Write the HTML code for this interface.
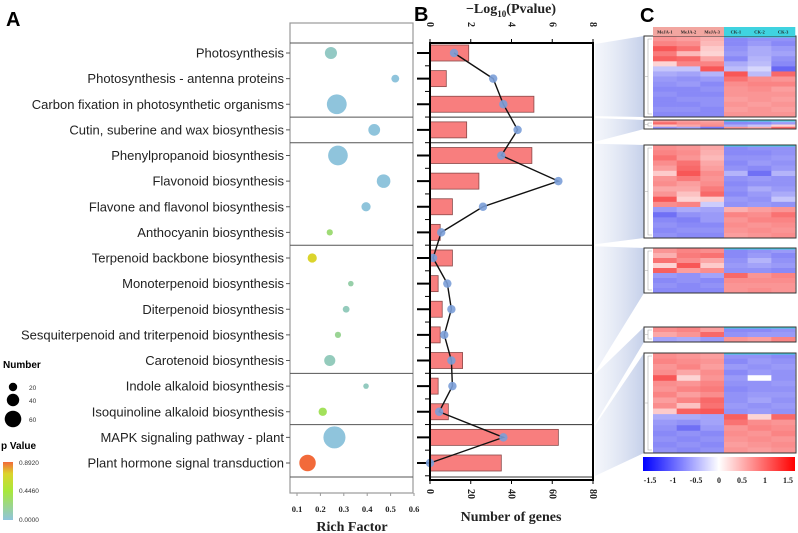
<!DOCTYPE html>
<html><head><meta charset="utf-8">
<style>
html,body{margin:0;padding:0;background:#fff;width:798px;height:533px;overflow:hidden}
svg{display:block}
.lab{font-family:"Liberation Sans",Arial,sans-serif;font-size:13px;fill:#222}
.ser{font-family:"Liberation Serif",serif;font-weight:bold;fill:#222}
</style></head>
<body>
<svg id="fig" width="798" height="533" viewBox="0 0 798 533" xmlns="http://www.w3.org/2000/svg">
<defs>
<linearGradient id="pgrad" x1="0" y1="1" x2="0" y2="0">
<stop offset="0" stop-color="#8fc4dc"/><stop offset="0.5" stop-color="#a8e83a"/><stop offset="0.8" stop-color="#dcd42c"/><stop offset="1" stop-color="#f26a3a"/>
</linearGradient>
<linearGradient id="fan" x1="0" y1="0" x2="1" y2="0">
<stop offset="0" stop-color="#dfe5f3" stop-opacity="0.35"/><stop offset="1" stop-color="#c5d0ea" stop-opacity="1"/>
</linearGradient>
<linearGradient id="cbar" x1="0" y1="0" x2="1" y2="0">
<stop offset="0" stop-color="#0000ff"/><stop offset="0.5" stop-color="#ffffff"/><stop offset="1" stop-color="#ff0000"/>
</linearGradient>
</defs>
<g id="fans"></g>
<text x="6" y="26" font-family="Liberation Sans,sans-serif" font-weight="bold" font-size="20">A</text>
<text x="414" y="21" font-family="Liberation Sans,sans-serif" font-weight="bold" font-size="20">B</text>
<text x="640" y="22" font-family="Liberation Sans,sans-serif" font-weight="bold" font-size="20">C</text>
<g id="panelA"></g>
<g id="panelB"></g>
<g id="panelC"></g>
<g id="legend">
<text x="3" y="368" font-family="Liberation Sans,sans-serif" font-weight="bold" font-size="10">Number</text>
<circle cx="13" cy="387" r="4.2" fill="#000"/>
<circle cx="13" cy="400" r="6.2" fill="#000"/>
<circle cx="13" cy="419" r="8.3" fill="#000"/>
<text x="29" y="390" font-family="Liberation Sans,sans-serif" font-size="6.5" fill="#333">20</text>
<text x="29" y="403" font-family="Liberation Sans,sans-serif" font-size="6.5" fill="#333">40</text>
<text x="29" y="422" font-family="Liberation Sans,sans-serif" font-size="6.5" fill="#333">60</text>
<text x="1" y="449" font-family="Liberation Sans,sans-serif" font-weight="bold" font-size="10">p Value</text>
<rect x="3" y="462" width="10" height="58" fill="url(#pgrad)"/>
<text x="19" y="465" font-family="Liberation Sans,sans-serif" font-size="6.5" fill="#333">0.8920</text>
<text x="19" y="493" font-family="Liberation Sans,sans-serif" font-size="6.5" fill="#333">0.4460</text>
<text x="19" y="522" font-family="Liberation Sans,sans-serif" font-size="6.5" fill="#333">0.0000</text>
</g>
</svg>
<script>
const pathways=["Photosynthesis","Photosynthesis - antenna proteins","Carbon fixation in photosynthetic organisms","Cutin, suberine and wax biosynthesis","Phenylpropanoid biosynthesis","Flavonoid biosynthesis","Flavone and flavonol biosynthesis","Anthocyanin biosynthesis","Terpenoid backbone biosynthesis","Monoterpenoid biosynthesis","Diterpenoid biosynthesis","Sesquiterpenoid and triterpenoid biosynthesis","Carotenoid biosynthesis","Indole alkaloid biosynthesis","Isoquinoline alkaloid biosynthesis","MAPK signaling pathway - plant","Plant hormone signal transduction"];
const richFactor=[0.245,0.52,0.27,0.43,0.275,0.47,0.395,0.24,0.165,0.33,0.31,0.275,0.24,0.395,0.21,0.26,0.145];
const geneCount=[19,8,51,18,50,24,11,5,11,4,6,5,16,4,9,63,35];
const negLogP=[1.18,3.1,3.6,4.3,3.5,6.3,2.6,0.55,0.15,0.85,1.05,0.7,1.05,1.1,0.45,3.6,0.0];
const groupStarts=[0,3,4,8,13,15,17];
const richTicks=[0.1,0.2,0.3,0.4,0.5,0.6];
const geneTicks=[0,20,40,60,80];
const pTicks=[0,2,4,6,8];
const sampleNames=["MeJA-1","MeJA-2","MeJA-3","CK-1","CK-2","CK-3"];
const colorbarTicks=[-1.5,-1,-0.5,0,0.5,1,1.5];
const heat1=[[0.8,0.7,0.5,-1,-0.9,-0.9],[1,0.9,0.4,-1,-0.8,-1],[1.5,1.2,0.2,-0.9,-0.6,-0.8],[1.1,0.4,0.1,-0.8,-0.6,-0.7],[1.4,1.3,0.6,-1,-0.5,-0.9],[0.1,1,1,-0.6,-0.4,-1],[-0.3,-0.3,1.5,-0.4,-0.1,-1.4],[-0.6,-0.7,-0.5,1.5,-0.4,1.3],[-0.8,-0.9,-0.8,1.2,0.9,0.8],[-0.9,-0.8,-1,0.9,1,1],[-1,-1,-0.9,0.8,0.9,0.7],[-0.9,-1,-1,0.8,0.8,0.8],[-1,-0.9,-0.9,0.7,0.8,0.7],[-1,-1,-0.9,0.8,0.7,0.8],[-0.9,-0.9,-1,0.7,0.8,0.7],[-1,-1,-1,0.8,0.8,0.8]];
const heat2=[[0.8,0.7,0.6,-1,-0.9,-0.5],[1.3,0.9,0.8,-1,-1,-0.8],[0.3,0.6,0.9,-0.6,-0.3,0.1],[-0.9,-0.7,-1.2,0.8,0.6,1.3]];
const heat3=[[0.9,0.8,0.6,-1,-0.9,-0.9],[1,0.9,0.5,-1,-1,-0.9],[1.2,0.8,0.4,-0.9,-0.9,-0.8],[0.9,1.2,0.6,-1,-0.8,-0.9],[0.7,1.3,0.7,-0.9,-1,-0.8],[0.2,1.5,0.9,-0.5,-1.3,-0.5],[0.8,1.1,0.8,-0.9,-0.8,-0.9],[0.9,0.7,0.9,-1,-0.9,-0.9],[0.6,0.6,1.1,-0.9,-0.6,-0.8],[0.8,0.3,1.3,-1,-0.8,-0.6],[1.5,0.1,0.2,-0.8,-0.9,-0.3],[0.9,1,-0.2,-0.9,-0.8,-0.9],[-0.8,-0.6,-0.7,0.5,0.7,0.8],[-1.3,-0.9,-0.8,1,0.9,1.2],[-1,-1.1,-0.8,0.8,1,1],[-0.9,-1,-1,0.9,0.8,0.9],[-1,-0.9,-0.9,0.8,0.9,0.8],[-0.9,-1,-1,0.7,0.8,0.9]];
const heat4=[[0.8,1,0.9,-1,-0.9,-0.8],[0.5,1.1,1.2,-1,-0.8,-1],[1.2,0.9,0.6,-0.9,-0.5,-0.9],[0.1,1.5,0.2,-0.8,-0.7,-0.8],[1.4,0.7,0.9,-0.9,-0.9,-1],[-0.8,-0.9,-0.7,1.3,0.8,1],[-1,-0.9,-1,0.9,0.9,0.9],[-0.9,-1,-0.9,0.8,0.8,0.8],[-1,-1,-1,0.8,0.9,0.8]];
const heat5=[[0.9,1,0.7,-1,-1,-0.9],[0.6,0.8,1.3,-0.9,-0.8,-0.8],[-0.7,-0.6,-0.8,0.8,0.7,1]];
const heat6=[[0.9,0.8,0.7,-0.9,-0.9,-1],[1,0.9,0.8,-1,-0.8,-0.9],[0.8,1,0.7,-0.8,-0.9,-0.8],[0.9,0.6,0.9,-1,-0.8,-0.9],[1.5,0.1,0.8,-0.8,0,-0.9],[0.9,0.8,1,-0.9,-0.9,-0.8],[0.8,1,1.1,-1,-0.9,-0.9],[1,0.7,0.9,-0.9,-0.8,-0.8],[0.7,1,1.3,-0.9,-0.7,-0.9],[0.9,0.3,1.2,-0.8,-0.9,-0.8],[0.2,1.4,1.5,-0.9,-0.8,-0.9],[-0.6,-0.6,-0.7,1.4,0.1,1.3],[-0.8,-0.9,-0.7,1.2,0.9,0.8],[-0.9,-1.3,-0.8,0.8,1,0.9],[-1,-0.9,-1,0.9,0.8,1],[-0.9,-1,-0.9,0.8,0.9,0.8],[-1,-0.9,-1,0.7,0.8,0.9],[-0.9,-1,-0.9,0.8,0.7,0.8]];
const heatBlocks=[heat1,heat2,heat3,heat4,heat5,heat6];

const NS="http://www.w3.org/2000/svg";
function mk(tag,attrs,parent){const e=document.createElementNS(NS,tag);for(const k in attrs)e.setAttribute(k,attrs[k]);parent.appendChild(e);return e;}
const rowY=i=>53+i*25.625;
const xRich=v=>297+(v-0.1)*234;
const xGene=v=>430+v*163/80;
const xLogP=v=>430+v*163/8;
const rad=n=>1.39*Math.sqrt(n);
function lerp(a,b,t){return a.map((x,i)=>Math.round(x+(b[i]-x)*t));}
function pColor(lp){let p=Math.min(Math.pow(10,-lp),0.892)/0.892;const c0=[143,196,220],c1=[168,232,58],c2=[220,212,44],c3=[242,106,58];
 let c;if(p<0.5)c=lerp(c0,c1,p*2);else if(p<0.8)c=lerp(c1,c2,(p-0.5)/0.3);else c=lerp(c2,c3,(p-0.8)/0.2);return `rgb(${c})`;}
function sepY(k){const s=groupStarts[k];if(s===0)return 43;if(s===pathways.length)return 477;return (rowY(s-1)+rowY(s))/2;}

// Panel A
const A=document.getElementById('panelA');
let r=mk('rect',{x:290,y:23,width:123,height:470,fill:'none',stroke:'#999','stroke-width':1.2},A);

groupStarts.forEach((s,k)=>{const y=sepY(k);
 const l=mk('line',{x1:290,x2:413,y1:y,y2:y,stroke:'#555','stroke-width':1},A);
 const l2=mk('line',{x1:430,x2:593,y1:y,y2:y,stroke:'#333','stroke-width':1},A);});
pathways.forEach((p,i)=>{const y=rowY(i);
 const t=mk('text',{x:284,y:y+4.5,'text-anchor':'end',class:'lab'},A);t.textContent=p;
 mk('line',{x1:286,x2:290,y1:y,y2:y,stroke:'#555'},A);
 const c=mk('circle',{cx:xRich(richFactor[i]),cy:y,r:rad(geneCount[i]),fill:pColor(negLogP[i])},A);});
richTicks.forEach(v=>{const t=mk('text',{x:xRich(v),y:512,'text-anchor':'middle',class:'ser','font-size':8.5},A);t.textContent=v.toFixed(1);
 mk('line',{x1:xRich(v),x2:xRich(v),y1:493,y2:496,stroke:'#999'},A);});
let tt=mk('text',{x:352,y:531,'text-anchor':'middle',class:'ser','font-size':14},A);tt.textContent='Rich Factor';

// Panel B
const B=document.getElementById('panelB');
pathways.forEach((p,i)=>{const y=rowY(i);
 const b=mk('rect',{x:430,y:y-8,width:xGene(geneCount[i])-430,height:16,fill:'#f87e7e',stroke:'#8a4a4a','stroke-width':0.8},B);
 mk('line',{x1:417,x2:430,y1:y,y2:y,stroke:'#000','stroke-width':2},B);
 mk('line',{x1:425,x2:430,y1:y+12.8,y2:y+12.8,stroke:'#000','stroke-width':1},B);});
let pts=pathways.map((p,i)=>xLogP(negLogP[i])+','+rowY(i)).join(' ');
let pl=mk('polyline',{points:pts,fill:'none',stroke:'#111','stroke-width':1.4},B);
pathways.forEach((p,i)=>{const c=mk('circle',{cx:xLogP(negLogP[i]),cy:rowY(i),r:4.2,fill:'#7b9fd8','fill-opacity':0.9},B);});
mk('line',{x1:430,x2:430,y1:43,y2:481,stroke:'#000','stroke-width':2},B);
mk('line',{x1:429,x2:594,y1:43,y2:43,stroke:'#000','stroke-width':2},B);
mk('line',{x1:429,x2:594,y1:480,y2:480,stroke:'#000','stroke-width':2},B);
mk('line',{x1:593,x2:593,y1:43,y2:481,stroke:'#000','stroke-width':2},B);
geneTicks.forEach(v=>{const x=xGene(v);mk('line',{x1:x,x2:x,y1:480,y2:484,stroke:'#000'},B);
 const t=mk('text',{x:x-3,y:489,transform:`rotate(90 ${x-3} 489)`,class:'ser','font-size':10},B);t.textContent=v;});
pTicks.forEach(v=>{const x=xLogP(v);mk('line',{x1:x,x2:x,y1:39,y2:43,stroke:'#000'},B);
 const t=mk('text',{x:x-3,y:22,transform:`rotate(90 ${x-3} 22)`,class:'ser','font-size':10},B);t.textContent=v;});
tt=mk('text',{x:511,y:521,'text-anchor':'middle',class:'ser','font-size':14},B);tt.textContent='Number of genes';
tt=mk('text',{x:511,y:13,'text-anchor':'middle',class:'ser','font-size':14},B);tt.innerHTML='\u2212Log<tspan font-size="9" dy="4">10</tspan><tspan dy="-4">(Pvalue)</tspan>';

// Panel C
const C=document.getElementById('panelC');const F=document.getElementById('fans');
const boxes=[[36,117],[120,129],[145,238],[248,293],[327,342],[353,453]];
const cellX0=653,cellW=(795-653)/6;
function hcol(v){v=Math.max(-1.5,Math.min(1.5,v))/1.5;const s=Math.sign(v)*Math.min(1,0.18+0.82*Math.abs(v)*0.85);
 const c=s<0?lerp([255,255,255],[40,40,240],-s*0.85):lerp([255,255,255],[245,30,30],s*0.85);return `rgb(${c})`;}
boxes.forEach((bx,k)=>{
 const f=mk('polygon',{points:`595,${sepY(k)+1} 644,${bx[0]} 644,${bx[1]} 595,${sepY(k+1)-1}`,fill:'url(#fan)'},F);
 const data=heatBlocks[k];const h=(bx[1]-bx[0])/data.length;
 data.forEach((row,ri)=>row.forEach((v,ci)=>{const c=mk('rect',{x:cellX0+ci*cellW,y:bx[0]+ri*h,width:cellW+0.3,height:h+0.3,fill:hcol(v)},C);}));
 mk('rect',{x:cellX0+3*cellW,y:bx[0],width:3*cellW,height:1.5,fill:'#40d4e0'},C);
 mk('rect',{x:644,y:bx[0],width:9,height:bx[1]-bx[0],fill:'#fff'},C);
 mk('path',{d:`M652 ${bx[0]+3} H648 V${bx[1]-3} H652 M648 ${(bx[0]+bx[1])/2} H645`,fill:'none',stroke:'#aaa','stroke-width':0.6},C);
 const o=mk('rect',{x:644,y:bx[0],width:152,height:bx[1]-bx[0],fill:'none',stroke:'#333','stroke-width':1},C);
});
sampleNames.forEach((s,i)=>{mk('rect',{x:cellX0+i*cellW,y:27,width:cellW+0.3,height:9,fill:i<3?'#f2a6a0':'#3fd3e0'},C);
 const t=mk('text',{x:cellX0+(i+0.5)*cellW,y:33.5,'text-anchor':'middle',class:'ser','font-size':4.5},C);t.textContent=s;});
let cb=mk('rect',{x:643,y:457,width:152,height:14,fill:'url(#cbar)'},C);
colorbarTicks.forEach(v=>{const t=mk('text',{x:719+v*46,y:483,'text-anchor':'middle',class:'ser','font-size':8,'font-weight':'normal'},C);t.textContent=v;});
</script>
</body></html>
